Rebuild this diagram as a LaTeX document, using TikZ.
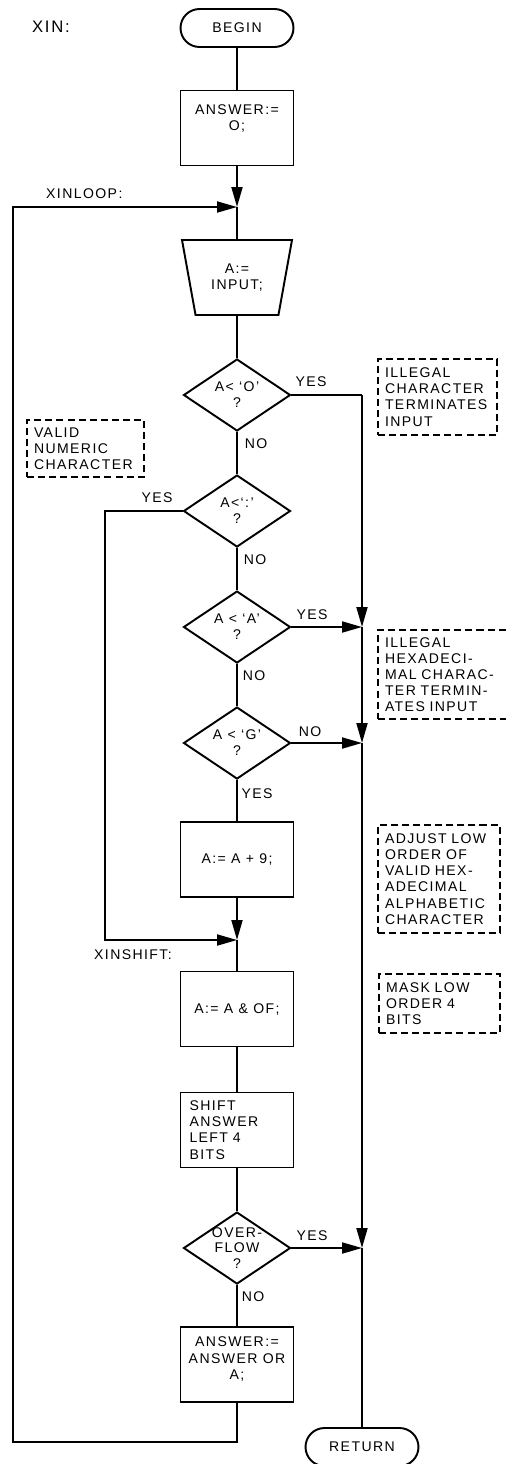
\documentclass[tikz,border=0pt]{standalone}
\usepackage{fontspec}
\setmainfont{Liberation Sans}[LetterSpace=10]
\usetikzlibrary{arrows.meta, shapes.geometric}

\begin{document}
\begin{tikzpicture}[
    x=0.02cm,
    y=-0.02cm,
    every node/.style={font=\fontsize{8}{9.2}\selectfont},
    linha/.style={
        draw=black,
        line width=1.1pt
    },
    seta/.style={
        linha,
        -{Triangle[length=0.4cm,width=0.22cm]}
    },
    terminal/.style={
        draw=black,
        line width=1.1pt,
        rounded corners=0.38cm,
        minimum width=2.26cm,
        minimum height=0.76cm
    },
    processo/.style={
        draw=black,
        line width=1.1pt,
        minimum width=2.26cm,
        minimum height=1.5cm,
        align=center
    },
    entrada/.style={
        trapezium,
        draw=black,
        line width=1.1pt,
        trapezium left angle=71,
        trapezium right angle=71,
        shape border rotate=180,
        trapezium stretches body,
        minimum width=2.2cm,
        minimum height=1.5cm,
        align=center
    },
    decisao/.style={
        diamond,
        draw=black,
        line width=1.1pt,
        aspect=1.5,
        inner sep=0pt,
        minimum width=2.14cm,
        minimum height=1.44cm,
        align=center
    },
    comentario/.style={
        draw=black,
        line width=0.8pt,
        dash pattern=on 4pt off 2.3pt,
        inner xsep=4pt,
        align=left,
        text width=#1
    },
    rotulo/.style={
        anchor=west
    }
]

% ============================================================
% LIMITES
% ============================================================

\useasboundingbox (0,0) rectangle (505,1464);

% ============================================================
% ROTULOS
% ============================================================

\node[
    rotulo,
    font=\fontsize{9.5}{11}\selectfont
] (xin) at (26,27) {XIN:};

\node[rotulo] (xinloop) at (40,194) {XINLOOP:};

\node[rotulo] (xinshift) at (88,955) {XINSHIFT:};

% ============================================================
% FLUXO PRINCIPAL
% ============================================================

\node[terminal] (begin) at (237,28) {BEGIN};

\node[processo] (init) at (237,128)
{ANSWER:=\\O;\\ \strut};

\coordinate (jloop) at (237,207);

\node[entrada] (input) at (237,277.5)
{A:=\\INPUT;};

\node[decisao] (d1) at (237,395) {A< `O'\\?};
\node[decisao] (d2) at (237,511) {A<`:'\\?};
\node[decisao] (d3) at (237,627) {A < `A'\\?};
\node[decisao] (d4) at (237,743) {A < `G'\\?};

\node[processo] (add9) at (237,859.5) {A:= A + 9;};

\coordinate (jshift) at (237,940);

\node[processo] (mask) at (237,1009) {A:= A \& OF;};

\node[
    processo,
    align=left,
    text width=1.9cm
] (shift) at (237,1130)
{SHIFT\\ANSWER\\LEFT 4\\BITS};

\node[
    decisao,
    inner sep=-3pt,
    font=\fontsize{8}{8.6}\selectfont
] (d5) at (237,1248) {OVER-\\FLOW\\?};

\node[processo] (orbox) at (237,1364.5)
{ANSWER:=\\ANSWER OR\\A;\\[-2pt]};

\node[terminal] (ret) at (362,1447) {RETURN};

% ============================================================
% CAMINHOS
% ============================================================

\coordinate (cbr) at (237,1442);
\coordinate (cbl) at (13,1442);
\coordinate (ctl) at (13,207);
\coordinate (cnum1) at (105,511);
\coordinate (cnum2) at (105,940);
\coordinate (ctr) at (362,395);
\coordinate (jA) at (362,627);
\coordinate (jG) at (362,743);
\coordinate (jO) at (362,1248);

\draw[linha] (begin) -- (init);
\draw[seta] (init) -- (jloop);
\draw[linha] (jloop) -- (input);
\draw[linha] (input) -- (d1);
\draw[linha] (d1) -- (d2);
\draw[linha] (d2) -- (d3);
\draw[linha] (d3) -- (d4);
\draw[linha] (d4) -- (add9);
\draw[seta] (add9) -- (jshift);
\draw[linha] (jshift) -- (mask);
\draw[linha] (mask) -- (shift);
\draw[linha] (shift) -- (d5);
\draw[linha] (d5) -- (orbox);

% volta
\draw[seta] (orbox) -- (cbr) -- (cbl) -- (ctl) -- (jloop);

% numerico
\draw[seta] (d2.west) -- (cnum1) -- (cnum2) -- (jshift);

% saida
\draw[linha] (d1.east) -- (ctr);
\draw[seta] (ctr) -- (jA);
\draw[seta] (d3.east) -- (jA);
\draw[seta] (jA) -- (jG);
\draw[seta] (d4.east) -- (jG);
\draw[seta] (jG) -- (jO);
\draw[seta] (d5.east) -- (jO);
\draw[linha] (jO) -- (ret);

% YES / NO
\node (yes1) at (311,382) {YES};
\node (no1) at (256,444) {NO};
\node (yes2) at (157,498) {YES};
\node (no2) at (255,560) {NO};
\node (yes3) at (312,615) {YES};
\node (no3) at (254,676) {NO};
\node (no4) at (310,732) {NO};
\node (yes4) at (257,794) {YES};
\node (yes5) at (312,1236) {YES};
\node (no5) at (253,1297) {NO};

% ============================================================
% COMENTARIOS
% ============================================================

\node[
    comentario=2.1cm,
    minimum height=1.52cm
] (c1) at (437.5,397)
{ILLEGAL\\CHARACTER\\TERMINATES\\INPUT};

\node[
    comentario=2.06cm,
    minimum height=1.14cm
] (c2) at (85.5,448.5)
{VALID\\NUMERIC\\CHARACTER};

\node[
    comentario=2.32cm,
    minimum height=1.78cm
] (c3) at (443,674.5)
{ILLEGAL\\HEXADECI-\\MAL CHARAC-\\TER TERMIN-\\ATES INPUT};

\node[
    comentario=2.16cm,
    minimum height=2.16cm
] (c4) at (439,879)
{ADJUST LOW\\ORDER OF\\VALID HEX-\\ADECIMAL\\ALPHABETIC\\CHARACTER};

\node[
    comentario=2.14cm,
    minimum height=1.18cm
] (c5) at (439.5,1003.5)
{MASK LOW\\ORDER 4\\BITS};

\end{tikzpicture}
\end{document}
